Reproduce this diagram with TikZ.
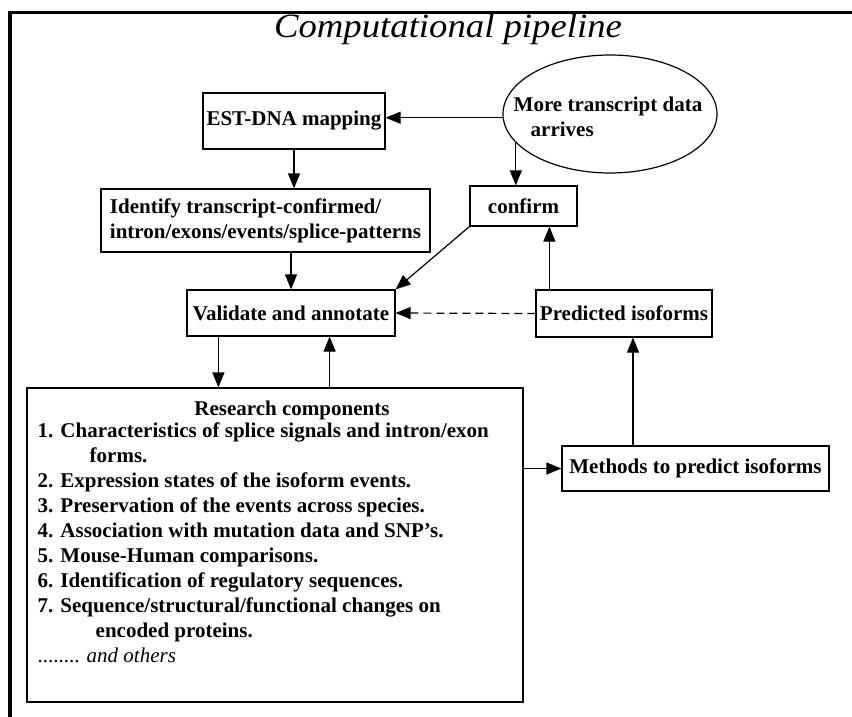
\documentclass[tikz,border=0pt]{standalone}
\usepackage{fontspec}
\setmainfont{Liberation Serif}
\usetikzlibrary{positioning}
\usetikzlibrary{shapes}
\usetikzlibrary{arrows.meta}

\tikzset{
  box/.style={draw, line width=1.2pt, inner sep=2pt, font=\fontsize{21}{25}\selectfont\bfseries},
  plain/.style={inner sep=0pt, font=\fontsize{21}{25}\selectfont\bfseries},
  arr/.style={-{Triangle[length=15pt,width=12pt]}, line width=1.2pt},
}

\begin{document}
\begin{tikzpicture}[x=1pt,y=-1pt]
\useasboundingbox (0,0) rectangle (852,717);
%frame
\draw[line width=3.6pt] (10,717) -- (10,12.5) -- (852,12.5);
%title
\node[anchor=base, inner sep=0pt] (title) at (448,38) {\scalebox{1.08}[1]{\fontsize{34}{38}\selectfont\itshape Computational pipeline}};
%boxes
\node[box, minimum width=182pt, minimum height=56pt] (est) at (294,121) {EST-DNA mapping};
\node[box, minimum width=329pt, minimum height=63pt, align=left] (ident) at (265.5,220.5)
  {Identify transcript-confirmed/\\intron/exons/events/splice-patterns};
\node[box, minimum width=208pt, minimum height=46pt] (valid) at (291,313) {Validate and annotate};
\node[box, minimum width=107pt, minimum height=40pt] (confirm) at (523.5,206) {confirm};
\node[box, minimum width=176pt, minimum height=47pt] (pred) at (624,313.5) {Predicted isoforms};
\node[box, minimum width=267pt, minimum height=45pt] (meth) at (695.5,468.5) {Methods to predict isoforms};
%ellipse
\node[draw, ellipse, line width=1.2pt, minimum width=214pt, minimum height=118pt] (more) at (610,114) {};
\node[plain, align=left] (moretext) at (608,116.5) {More transcript data\\\hspace*{17pt}arrives};
%research components
\node[draw, line width=1.2pt, minimum width=496pt, minimum height=314pt] (research) at (275,545) {};
\node[plain] (rchead) at (292,410) {Research components};
\node[plain, align=left, anchor=north west] (rclist) at (37.5,422.5) {%
1. Characteristics of splice signals and intron/exon\\
\hspace*{52pt}forms.\\
2. Expression states of the isoform events.\\
3. Preservation of the events across species.\\
4. Association with mutation data and SNP's.\\
5. Mouse-Human comparisons.\\
6. Identification of regulatory sequences.\\
7. Sequence/structural/functional changes on\\
\hspace*{58pt}encoded proteins.\\
{\mdseries ........ \itshape and others}};
%arrows
\draw[arr] (more.182) -- (more.182 -| est.east);
\draw[arr] (est.south) -- (est.south |- ident.north);
\draw[arr] (ident.south -| valid.north) -- (valid.north);
\draw[arr] (more.197) -- (more.197 |- confirm.north);
\draw[arr] (confirm.south west) -- (valid.north east);
\draw[arr] ([xshift=14pt]pred.north west) -- ([xshift=14pt]pred.north west |- confirm.south);
\draw[arr, dash pattern=on 8pt off 5pt] (pred.west) -- (valid.east);
\draw[arr] ([xshift=9pt]pred.south |- meth.north) -- ([xshift=9pt]pred.south);
\draw[arr] (research.east |- meth.west) -- (meth.west);
\draw[arr] ([xshift=32pt]valid.south west) -- ([xshift=32pt]valid.south west |- research.north);
\draw[arr] ([xshift=-66pt]valid.south east |- research.north) -- ([xshift=-66pt]valid.south east);
\end{tikzpicture}
\end{document}
